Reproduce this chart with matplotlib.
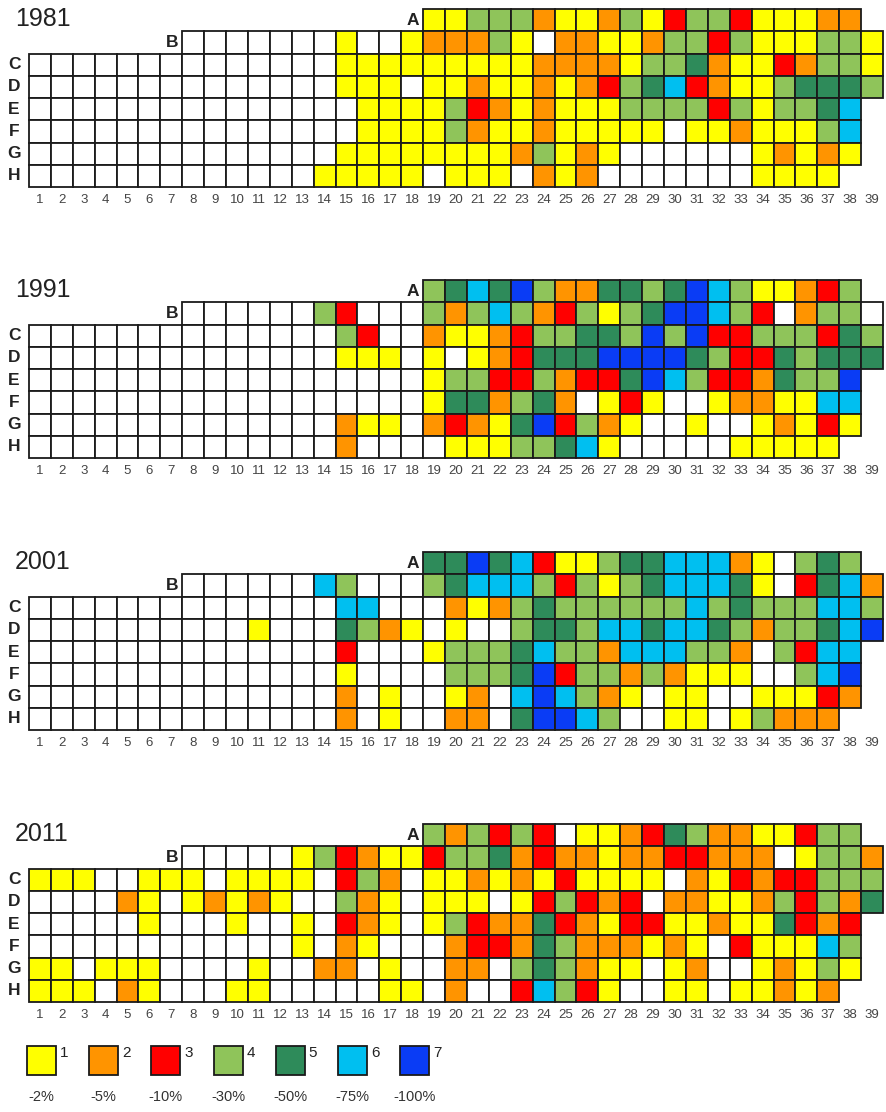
import matplotlib.pyplot as plt
from matplotlib.patches import Rectangle

plt.rcParams['font.family'] = ['Liberation Sans', 'DejaVu Sans']

# ==== data ====
# class of each cell: 0 = no loss, 1..7 = loss class, '-' = no cell
# every row string covers columns 1..39 (spaces only group by tens)
ROWS = ["A", "B", "C", "D", "E", "F", "G", "H"]
COLUMNS = list(range(1, 40))
YEARS = ["1981", "1991", "2001", "2011"]

grid_1981 = [
    "---------- --------11 4442112413 44311122-",
    "-------000 0000100122 2410221124 434111441",
    "0000000000 0000111111 1112222144 521132441",
    "0000000000 0000111011 2112123456 321145554",
    "0000000000 0000011114 3212111444 43414456-",
    "0000000000 0000011114 2112111110 11211146-",
    "0000000000 0000111111 1124121000 00012121-",
    "0000000000 0001111101 1102120000 0001111--",
]
grid_1991 = [
    "---------- --------45 6574225545 76411234-",
    "-------000 0004300042 4642341457 764302440",
    "0000000000 0000430021 1234455474 733444354",
    "0000000000 0000111010 1235557777 543354555",
    "0000000000 0000000014 4334233576 43325447-",
    "0000000000 0000000015 5245201310 01221166-",
    "0000000000 0000211023 2157342100 10012131-",
    "0000000000 0000200001 1144561000 0011111--",
]
grid_2001 = [
    "---------- --------55 7563114556 66210454-",
    "-------000 0006400045 6664341456 665103562",
    "0000000000 0000660002 1245444444 645444664",
    "0000000000 1000542101 0045546656 654244567",
    "0000000000 0000300014 4456442666 44204366-",
    "0000000000 0000100004 4457344242 11100467-",
    "0000000000 0000201001 2067642101 10011132-",
    "0000000000 0000201002 2057764001 1014222--",
]
grid_2011 = [
    "---------- --------42 4343011235 42211344-",
    "-------000 0014321134 4523221223 322201442",
    "1110011101 1110342011 2121311110 213233444",
    "0000210121 2100421011 1013432302 211243425",
    "0000010001 0010321014 3225321331 12115323-",
    "0000000000 0010210002 3325422212 10311164-",
    "1101110000 1002201002 2045421101 20012141-",
    "1110210001 1000001102 0036431001 1011212--",
]
GRIDS = [grid_1981, grid_1991, grid_2001, grid_2011]

COLORS = ["#FFFFFF", "#FFFF00", "#FF9400", "#FF0000",
          "#8FC45A", "#2E8B5A", "#00BFF0", "#0A3CF5"]
CLASS_LABELS = ["1", "2", "3", "4", "5", "6", "7"]
LOSS_LABELS = ["-2%", "-5%", "-10%", "-30%", "-50%", "-75%", "-100%"]

# ==== layout (pixels) ====
W, H = 887, 1112
GRID_LEFT = 29
GRID_W = 854
GRID_H = 178
PANEL_TOPS = [9, 280, 552, 824]
EDGE = "#1a1a1a"
LW = 1.3

fig = plt.figure(figsize=(W / 100, H / 100), dpi=100)

for year, grid, top in zip(YEARS, GRIDS, PANEL_TOPS):
    ax = fig.add_axes([GRID_LEFT / W, 1 - (top + GRID_H) / H, GRID_W / W, GRID_H / H])
    ax.set_xlim(0, len(COLUMNS))
    ax.set_ylim(len(ROWS), 0)
    for r, row in enumerate(grid):
        cells = row.replace(" ", "")
        for c, ch in enumerate(cells):
            if ch == "-":
                continue
            ax.add_patch(Rectangle((c, r), 1, 1, facecolor=COLORS[int(ch)],
                                   edgecolor=EDGE, linewidth=LW, clip_on=False))
        first = len(cells) - len(cells.lstrip("-"))
        if first == 0:
            ax.text(-0.68, r + 0.5, ROWS[r], ha="center", va="center",
                    fontsize=12.5, fontweight="bold", color="#222222")
        else:
            ax.text(first - 0.2, r + 0.5, ROWS[r], ha="right", va="center",
                    fontsize=12.5, fontweight="bold", color="#222222")
    ax.text(-0.64, 0.45, year, ha="left", va="center", fontsize=18, color="#222222")
    ax.set_xticks([c - 0.5 for c in COLUMNS])
    ax.set_xticklabels(COLUMNS)
    ax.set_yticks([])
    ax.tick_params(axis="x", length=0, pad=5, labelsize=9.5, labelcolor="#444444")
    for s in ax.spines.values():
        s.set_visible(False)

# ==== legend ====
STEP = 62.2
lax = fig.add_axes([27 / W, 1 - 1110 / H, 7 * STEP / W, 70 / H])
lax.set_xlim(0, 7)
lax.set_ylim(0, 1)
lax.axis("off")
for i, (lab, loss) in enumerate(zip(CLASS_LABELS, LOSS_LABELS)):
    lax.add_patch(Rectangle((i, 0.5), 0.466, 0.414, facecolor=COLORS[i + 1],
                            edgecolor=EDGE, linewidth=LW, clip_on=False))
    lax.text(i + 0.53, 0.92, lab, ha="left", va="top", fontsize=11, color="#222222")
    lax.text(i + 0.233, 0.19, loss, ha="center", va="center", fontsize=10.5, color="#333333")

fig.savefig("out.png", dpi=100)
